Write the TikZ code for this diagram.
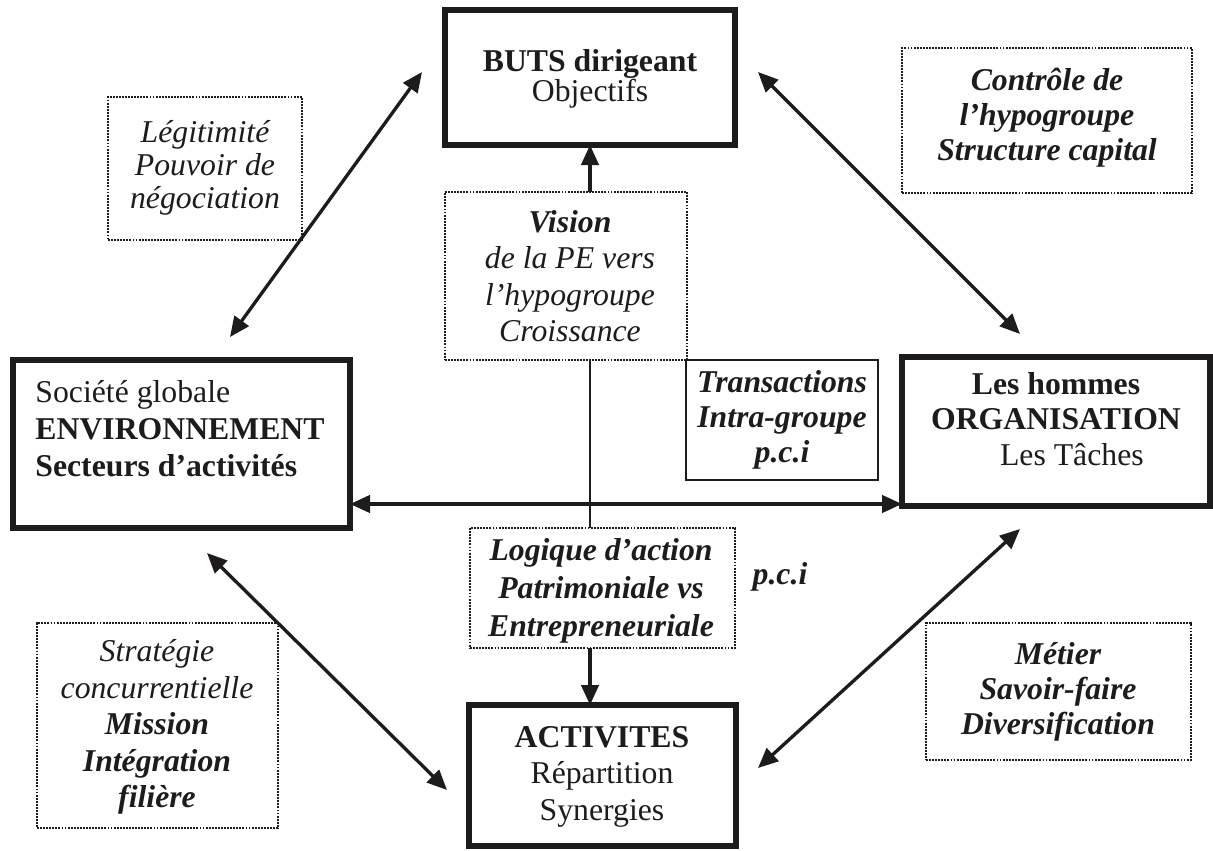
\documentclass[tikz,border=0pt]{standalone}
\usepackage{fontspec}
\setmainfont{Liberation Serif}
\usetikzlibrary{calc,arrows.meta}
\definecolor{inkgray}{RGB}{30,27,28}

\begin{document}
\begin{tikzpicture}[x=0.75pt,y=0.75pt,yscale=-1,xscale=1,
  heavy/.style={draw=inkgray,line width=4pt,inner sep=0pt,outer sep=0pt},
  dotty/.style={draw=inkgray,line width=2pt,dash pattern=on 1.4pt off 0.9pt,inner sep=0pt,outer sep=0pt},
  thin box/.style={draw=inkgray,line width=0.9pt,inner sep=0pt,outer sep=0pt},
  txt/.style={text=inkgray,align=center,inner sep=0pt,font=\fontsize{23.8}{27.4}\selectfont},
  arr/.style={draw=inkgray,line width=2.5pt,-{Triangle[length=15pt,width=13pt]}},
  dblarr/.style={draw=inkgray,line width=2.5pt,{Triangle[length=15pt,width=13pt]}-{Triangle[length=15pt,width=13pt]}}]
\useasboundingbox (0,0) rectangle (1213,850);

%Shape: Rectangle [buts]
\node[heavy,minimum width=217.5pt,minimum height=101.25pt] (buts) at (590,77.5) {};
%Shape: Rectangle [env]
\node[heavy,minimum width=252.75pt,minimum height=126pt] (env) at (181.5,444) {};
%Shape: Rectangle [org]
\node[heavy,minimum width=231pt,minimum height=111.75pt] (org) at (1056,431.5) {};
%Shape: Rectangle [act]
\node[heavy,minimum width=200.25pt,minimum height=105.75pt] (act) at (602.5,775.5) {};
%Shape: Rectangle [trans]
\node[thin box,minimum width=144pt,minimum height=90pt] (trans) at (782,420) {};
%Shape: Dotted boxes
\node[dotty,minimum width=145.5pt,minimum height=107.25pt] (legit) at (205,168.5) {};
\node[dotty,minimum width=217.5pt,minimum height=108.75pt] (ctrl) at (1047,120.5) {};
\node[dotty,minimum width=181.5pt,minimum height=126pt] (vision) at (566,276) {};
\node[dotty,minimum width=198.75pt,minimum height=90pt] (logic) at (602.5,588) {};
\node[dotty,minimum width=198.75pt,minimum height=102.75pt] (metier) at (1058.5,691.5) {};
\node[dotty,minimum width=180.75pt,minimum height=153.75pt] (strat) at (157.5,725.5) {};

%Arrow ends
\coordinate (legUp) at ($(buts.north west)+(-23,62)$);
\coordinate (legDn) at ($(env.north west)+(217,-23)$);
\coordinate (ctlUp) at ($(buts.north east)+(23,62)$);
\coordinate (ctlDn) at ($(org.north west)+(118,-23)$);
\coordinate (strUp) at ($(env.south west)+(194,25)$);
\coordinate (strDn) at ($(act.north west)+(-22,85)$);
\coordinate (metUp) at ($(org.south west)+(118,23)$);
\coordinate (metDn) at ($(act.north east)+(22,63)$);
\coordinate (hzL) at ($(env.south east)+(0,-24)$);

%Connectors
\draw[dblarr] (legDn) -- (legUp);
\draw[dblarr] (ctlUp) -- (ctlDn);
\draw[dblarr] (strUp) -- (strDn);
\draw[dblarr] (metDn) -- (metUp);
\draw[dblarr] (hzL) -- (hzL -| org.west);
\draw[arr] (vision.north -| buts.south) -- (buts.south);
\draw[draw=inkgray,line width=1.6pt] (vision.south -| buts.south) -- (logic.north -| buts.south);
\draw[arr] (logic.south -| buts.south) -- (act.north -| buts.south);

% Text Node
\node[txt,font=\fontsize{23.8}{21}\selectfont] (butsTxt) at (590,79) {\textbf{BUTS dirigeant}\\Objectifs};
% Text Node
\node[txt,font=\fontsize{23.8}{24.75}\selectfont\itshape] (legitTxt) at (205,168) {Légitimité\\Pouvoir de\\négociation};
% Text Node
\node[txt,font=\fontsize{23.8}{26.25}\selectfont\bfseries\itshape] (ctrlTxt) at (1047,118) {Contrôle de\\l’hypogroupe\\Structure capital};
% Text Node
\node[txt,font=\fontsize{23.8}{27.4}\selectfont\itshape] (visionTxt) at (570,276) {\textbf{Vision}\\de la PE vers\\l’hypogroupe\\Croissance};
% Text Node
\node[txt,font=\fontsize{23.8}{26}\selectfont\bfseries\itshape] (transTxt) at (782,420) {Transactions\\Intra-groupe\\p.c.i};
% Text Node
\node[txt,align=left,font=\fontsize{23.8}{28}\selectfont] (envTxt) at (180,428.5) {Société globale\\\textbf{ENVIRONNEMENT}\\\textbf{Secteurs d’activités}};
% Text Node
\node[txt,font=\fontsize{23.8}{26.5}\selectfont] (orgTxt) at (1056,419) {\textbf{Les hommes}\\\textbf{ORGANISATION}\\\hspace*{1em}Les Tâches};
% Text Node
\node[txt,font=\fontsize{23.8}{28.5}\selectfont\bfseries\itshape] (logicTxt) at (601,591) {Logique d’action\\Patrimoniale vs\\Entrepreneuriale};
% Text Node
\node[txt,font=\fontsize{23.8}{27.4}\selectfont\bfseries\itshape] (pciTxt) at (780,577) {p.c.i};
% Text Node
\node[txt] (actTxt) at (602,776.5) {\textbf{ACTIVITES}\\Répartition\\Synergies};
% Text Node
\node[txt,font=\fontsize{23.8}{26.5}\selectfont\bfseries\itshape] (metierTxt) at (1058,692) {Métier\\Savoir-faire\\Diversification};
% Text Node
\node[txt,font=\fontsize{23.8}{27.4}\selectfont\itshape] (stratTxt) at (157,727) {Stratégie\\concurrentielle\\\textbf{Mission}\\\textbf{Intégration}\\\textbf{filière}};

\end{tikzpicture}
\end{document}
